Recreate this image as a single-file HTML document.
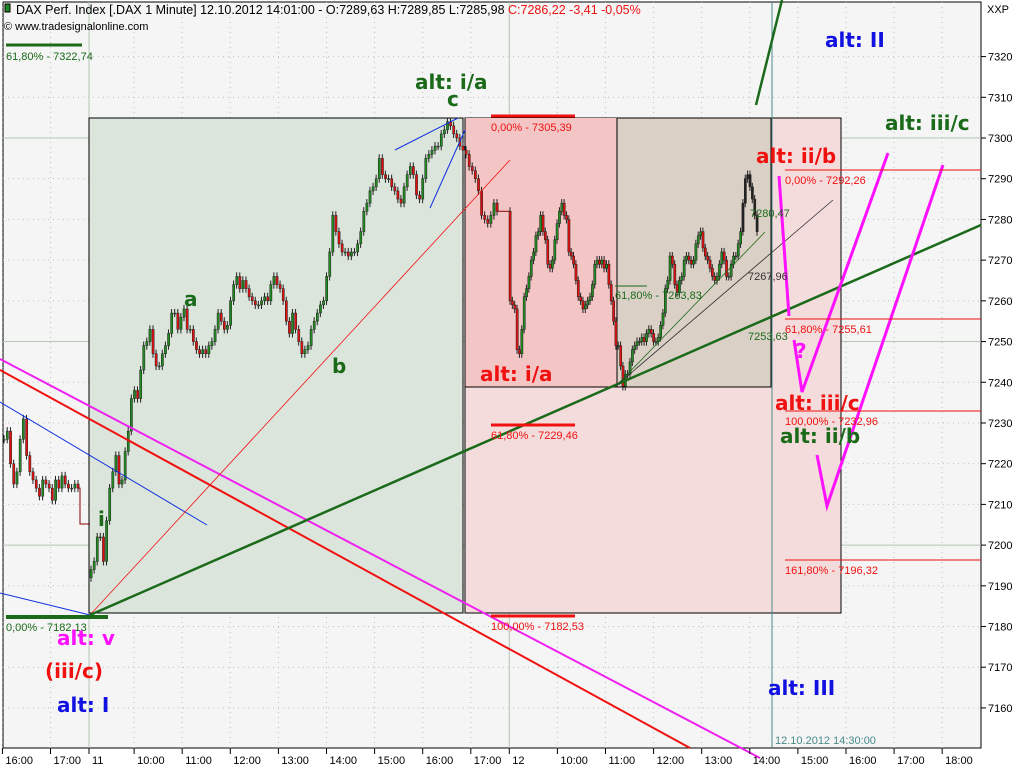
<!DOCTYPE html>
<html><head><meta charset="utf-8"><style>
body{margin:0;background:#fff;}
svg{display:block;font-family:"Liberation Sans",sans-serif;}
.big{font-family:"DejaVu Sans",sans-serif;font-weight:bold;font-size:20px;}
.sm{font-size:11px;}
.ttl{font-size:12.5px;}
</style></head><body>
<svg id="chart" width="1024" height="768">
<rect x="0" y="0" width="1024" height="768" fill="#ffffff"/>
<rect x="3" y="2" width="978" height="746" fill="#f5f5f5" stroke="#000"/>
<g id="grid"></g>
<rect x="89" y="118" width="374" height="495" fill="#dce5dc" stroke="#000"/>
<rect x="465" y="118" width="376" height="495" fill="#f5dcdc" stroke="#000"/>
<rect x="465" y="118" width="152" height="269" fill="#f3c5c5" stroke="none"/>
<rect x="617" y="118" width="154" height="269" fill="#dbd0c6" stroke="#000"/>
<line x1="465" y1="387" x2="617" y2="387" stroke="#000"/>
<line x1="465" y1="118" x2="465" y2="613" stroke="#000"/>
<line x1="772" y1="2" x2="772" y2="748" stroke="#4a8a8a"/>
<g id="candles"></g>
<g id="overlay"></g>
</svg>
<script>
// price data (closes) per session
const prevDayCloses=[7226,7228,7220,7215,7218,7226,7231,7222,7218,7216,7214,7212,7216,7215,7214,7211,7216,7214,7217,7215,7214,7214,7215,7214];
const day11Open=7192;
const day11Closes=[7194,7196,7202,7202,7196,7206,7214,7218,7222,7215,7216,7223,7228,7236,7238,7236,7243,7249,7250,7253,7247,7244,7244,7247,7249,7252,7257,7257,7253,7256,7258,7253,7253,7250,7248,7247,7248,7247,7249,7250,7253,7257,7255,7253,7254,7260,7264,7266,7263,7265,7263,7261,7260,7259,7259,7260,7261,7260,7264,7266,7264,7263,7260,7255,7252,7257,7253,7250,7247,7248,7249,7253,7255,7257,7259,7260,7266,7272,7281,7277,7274,7272,7272,7271,7272,7272,7274,7277,7282,7284,7287,7288,7290,7295,7291,7290,7290,7288,7287,7285,7284,7288,7291,7293,7291,7286,7285,7290,7295,7296,7297,7298,7298,7301,7302,7304,7303,7301,7300,7298,7297,7296,7293,7292,7290,7287,7281,7280,7279,7281,7284,7282];
const day12Closes=[7260,7259,7258,7248,7247,7253,7261,7263,7266,7270,7272,7276,7277,7281,7277,7275,7269,7268,7270,7275,7279,7282,7284,7281,7280,7272,7271,7269,7265,7261,7260,7258,7259,7260,7261,7264,7269,7270,7269,7270,7268,7269,7264,7260,7255,7249,7249,7244,7239,7242,7242,7245,7248,7249,7250,7250,7251,7250,7252,7253,7252,7250,7250,7251,7254,7257,7263,7265,7271,7269,7264,7262,7265,7266,7270,7271,7270,7269,7270,7274,7276,7277,7273,7271,7270,7268,7266,7265,7266,7269,7272,7270,7266,7266,7269,7271,7271,7274,7277,7284,7290,7291,7288,7285,7281,7277];
const priceTicks=[7320,7310,7300,7290,7280,7270,7260,7250,7240,7230,7220,7210,7200,7190,7180,7170,7160];
const timeLabels=["16:00","17:00","11","10:00","11:00","12:00","13:00","14:00","15:00","16:00","17:00","12","10:00","11:00","12:00","13:00","14:00","15:00","16:00","17:00","18:00"];
const timeSlots=[-1.8,-0.8,0,1,2,3,4,5,6,7,8,8.8,9.8,10.8,11.8,12.8,13.8,14.8,15.8,16.8,17.8];

const NS="http://www.w3.org/2000/svg";
const svg=document.getElementById('chart');
function y(p){return 138+(7300-p)*4.071;}
function tx(s){return 89+s*48.1+(s>=1?-3:0);}
function mk(tag,at,parent){const e=document.createElementNS(NS,tag);for(const k in at)e.setAttribute(k,at[k]);(parent||svg).appendChild(e);return e;}

const grid=document.getElementById('grid');
priceTicks.forEach(p=>{
  const g=mk('line',{x1:3,x2:981,y1:y(p),y2:y(p),stroke:(p%50===0)?'#b4c8b4':'#b8c4b8','stroke-dasharray':(p%50===0)?'':'1,4'},grid);
  
  
  mk('line',{x1:981,x2:986,y1:y(p),y2:y(p),stroke:'#000'});
  const t=mk('text',{x:988,y:y(p)+4,class:'sm',fill:'#000'});t.textContent=p;
  
  
});
timeLabels.forEach((l,i)=>{
  const xx=tx(timeSlots[i]);
  const isDay=(l==="11"||l==="12");
  const g=mk('line',{x1:xx,x2:xx,y1:2,y2:748,stroke:isDay?'#b4c8b4':'#b8c4b8','stroke-dasharray':isDay?'':'1,4'},grid);
  
  
  mk('line',{x1:xx,x2:xx,y1:748,y2:754,stroke:'#000'});
  const t=mk('text',{x:xx+3,y:764,class:'sm',fill:'#000'});t.textContent=l;
  
  
});
const xx=mk('text',{x:987,y:13,class:'sm',fill:'#000','font-size':'10'});xx.textContent='XXP';

const cg=document.getElementById('candles');
function drawSeries(closes,open,x0,x1,dark){
  const n=closes.length,st=(x1-x0)/(n-1);let o=open;
  closes.forEach((c,i)=>{
    const cx=x0+i*st;const hi=Math.max(o,c)+1,lo=Math.min(o,c)-1;
    mk('line',{x1:cx,x2:cx,y1:y(hi),y2:y(lo),stroke:'#222'},cg);
    const top=y(Math.max(o,c)),h=Math.max(1,y(Math.min(o,c))-top);
    const r=mk('rect',{x:cx-1,y:top,width:2.2,height:h,fill:(dark&&i>n-8)?'#222':(c>=o?'#1f8a1f':'#e01010'),stroke:'#222','stroke-width':0.5},cg);
    
    
    o=c;
  });
}
drawSeries(prevDayCloses,prevDayCloses[0],4,78,false);
mk('polyline',{points:`78,${y(prevDayCloses[prevDayCloses.length-1])} 80,${y(prevDayCloses[prevDayCloses.length-1])} 80,524 90,524`,fill:'none',stroke:'#800'},cg);
drawSeries(day11Closes,day11Open,91,497,false);
mk('polyline',{points:`497,${y(day11Closes[day11Closes.length-1])} 509,${y(day11Closes[day11Closes.length-1])}`,fill:'none',stroke:'#800'},cg);
drawSeries(day12Closes,day11Closes[day11Closes.length-1],510,757,true);

const ov=document.getElementById('overlay');
function L(a,b,c,d,col,w,name){const e=mk('line',{x1:a,y1:b,x2:c,y2:d,stroke:col,'stroke-width':w},ov);return e;}
function T(x,yy,s,col,cls,name){const e=mk('text',{x:x,y:yy,fill:col,class:cls},ov);e.textContent=s;return e;}
L(0,370,690,748,'#f01010',2,'red-channel-line');
L(0,359,760,758,'#f020f0',2,'magenta-channel-line');
L(0,402,207,525,'#1030e0',1,'blue-trend-line');
L(0,593,90,615,'#1030e0',1,'blue-trend-line-2');
L(90,615,510,160,'#f01010',0.8,'red-fan-line');
L(395,150,458,118,'#1030e0',1,'blue-wedge-top');
L(430,208,465,130,'#1030e0',1,'blue-wedge-bottom');
L(90,615,981,225,'#1a6a1a',2.5,'green-support-line');
L(617,385,765,232,'#1a6a1a',0.8,'green-thin-trend');
L(617,385,833,200,'#333',0.8,'black-thin-trend');
L(756,105,782,0,'#1a6a1a',2.5,'green-projection');
mk('polyline',{points:'779,176 789,316',fill:'none',stroke:'#ff10ff','stroke-width':3},ov);
mk('polyline',{points:'794,340 802,392 888,153',fill:'none',stroke:'#ff10ff','stroke-width':3},ov);
mk('polyline',{points:'817,455 827,506 943,165',fill:'none',stroke:'#ff10ff','stroke-width':3},ov);
L(6,45,82,45,'#1a6a1a',3,'fib-green-618');T(6,60,'61,80% - 7322,74','#1a6a1a','sm','fib-label');
L(6,617,108,617,'#1a6a1a',4,'fib-green-0');T(6,631,'0,00% - 7182,13','#1a6a1a','sm','fib-label');
L(491,116,575,116,'#f01010',3,'fib-red-0');T(491,131,'0,00% - 7305,39','#f01010','sm','fib-label');
L(491,425,575,425,'#f01010',3,'fib-red-618');T(491,439,'61,80% - 7229,46','#f01010','sm','fib-label');
L(491,616,575,616,'#f01010',3,'fib-red-100');T(491,630,'100,00% - 7182,53','#f01010','sm','fib-label');
[[170,'0,00% - 7292,26'],[319,'61,80% - 7255,61'],[411,'100,00% - 7232,96'],[560,'161,80% - 7196,32']].forEach(a=>{L(785,a[0],981,a[0],'#f01010',1,'fib-level');T(785,a[0]+14,a[1],'#f01010','sm','fib-label');});
L(615,286,647,286,'#1a6a1a',1,'fib-green-level');T(615,299,'61,80% - 7263,83','#1a6a1a','sm','fib-label');
T(750,217,'7280,47','#1a6a1a','sm','price-label');
T(748,280,'7267,96','#333','sm','price-label');
T(748,340,'7253,63','#1a6a1a','sm','price-label');
T(775,744,'12.10.2012 14:30:00','#4a8a8a','sm','cursor-time-label');
T(415,89,'alt: i/a','#1a6a1a','big','wave-label');
T(447,106,'c','#1a6a1a','big','wave-label');
T(184,306,'a','#1a6a1a','big','wave-label');
T(332,373,'b','#1a6a1a','big','wave-label');
T(98,526,'i','#1a6a1a','big','wave-label');
T(57,645,'alt: v','#ff10ff','big','wave-label');
T(45,678,'(iii/c)','#f01010','big','wave-label');
T(57,712,'alt: I','#1010e0','big','wave-label');
T(480,381,'alt: i/a','#f01010','big','wave-label');
T(756,163,'alt: ii/b','#f01010','big','wave-label');
T(775,410,'alt: iii/c','#f01010','big','wave-label');
T(780,443,'alt: ii/b','#1a6a1a','big','wave-label');
T(825,47,'alt: II','#1010e0','big','wave-label');
T(885,130,'alt: iii/c','#1a6a1a','big','wave-label');
T(768,695,'alt: III','#1010e0','big','wave-label');
T(795,358,'?','#ff10ff','big','wave-label');
mk('rect',{x:5,y:4,width:5,height:8,fill:'#1f8a1f',stroke:'#000'});
const h=T(16,14,'','#000','ttl','chart-title');
h.innerHTML='DAX Perf. Index [.DAX  1 Minute] 12.10.2012 14:01:00 - O:7289,63 H:7289,85 L:7285,98 <tspan fill="#f01010">C:7286,22 -3,41 -0,05%</tspan>';
T(4,30,'© www.tradesignalonline.com','#000','sm','copyright');
</script>
</body></html>
